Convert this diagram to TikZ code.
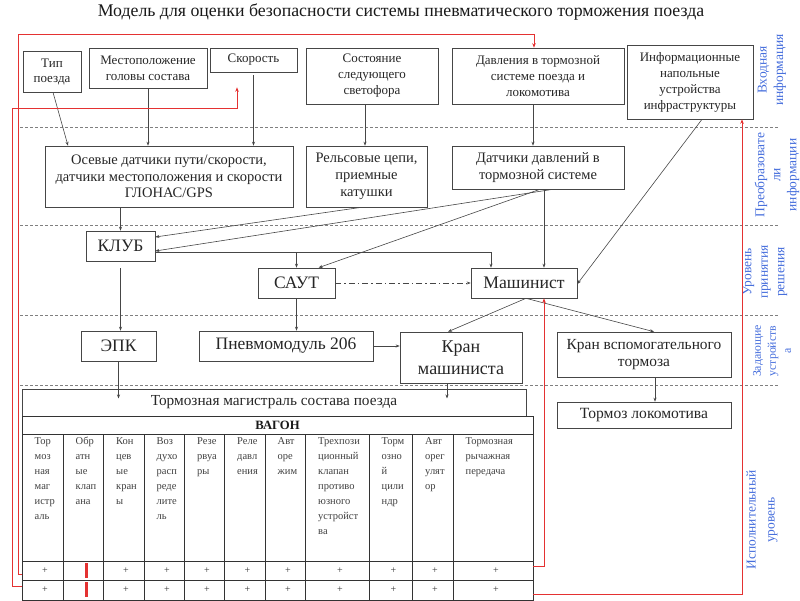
\documentclass[tikz,border=0pt]{standalone}
\usepackage{fontspec}
\setmainfont{Liberation Serif}
\usetikzlibrary{arrows.meta}
\definecolor{redl}{RGB}{228,50,50}
\definecolor{bluel}{RGB}{70,110,220}
\definecolor{linec}{RGB}{70,70,70}
\newcommand{\fs}[2]{\fontsize{#1}{#2}\selectfont}
\tikzset{
 box/.style={draw=linec, line width=0.6pt, inner sep=0pt, align=center, text=black!85},
 conn/.style={draw=linec, line width=0.6pt, -{Stealth[length=4pt,width=3pt]}},
 rconn/.style={draw=redl, line width=0.8pt, -{Stealth[length=4.5pt,width=3.5pt]}},
 lvl/.style={draw=gray, line width=0.7pt, dash pattern=on 3pt off 2pt},
 side/.style={rotate=90, text=bluel, align=center, font=\fs{13.5}{16.5}},
 tline/.style={draw=black!80, line width=0.8pt},
 ctext/.style={anchor=north west, align=left, inner sep=0pt, font=\fs{10.5}{15}, text=black!75},
}
\begin{document}
\begin{tikzpicture}[x=1pt,y=-1pt]
\useasboundingbox (0,0) rectangle (800,600);

% title
\node[font=\fs{17.8}{20}, text=black!90] (title) at (401,12) {Модель для оценки безопасности системы пневматического торможения поезда};

% level separators
\foreach \yy in {127,225,315,385} \draw[lvl] (20,\yy) -- (778,\yy);

% top row
\node[box, minimum width=58pt, minimum height=41pt, font=\fs{13}{15}] (tip) at (52,71.5) {Тип\\поезда};
\node[box, minimum width=118pt, minimum height=40pt, font=\fs{13}{16}] (mest) at (148,68) {Местоположение\\головы состава};
\node[box, minimum width=87pt, minimum height=24pt, font=\fs{13}{16}] (skor) at (253.5,60) {Скорость};
\node[box, minimum width=132pt, minimum height=56pt, font=\fs{13}{16}] (sost) at (372,76) {Состояние\\следующего\\светофора};
\node[box, minimum width=172pt, minimum height=56pt, font=\fs{13}{16}] (davl) at (538,76) {Давления в тормозной\\системе поезда и\\локомотива};
\node[box, minimum width=126pt, minimum height=74pt, font=\fs{13}{16}] (info) at (690,82) {Информационные\\напольные\\устройства\\инфраструктуры};

% second row
\node[box, minimum width=248pt, minimum height=61pt, font=\fs{14.5}{16.7}] (osev) at (169,176.5) {Осевые датчики пути/скорости,\\датчики местоположения и скорости\\ГЛОНАС/GPS};
\node[box, minimum width=121pt, minimum height=61pt, font=\fs{14.5}{16.7}] (rels) at (366.5,176.5) {Рельсовые цепи,\\приемные\\катушки};
\node[box, minimum width=172pt, minimum height=43pt, font=\fs{14.5}{16.7}] (dat) at (538,167.5) {Датчики давлений в\\тормозной системе};

% decision level
\node[box, minimum width=69pt, minimum height=30pt, font=\fs{17.5}{20}] (klub) at (120.5,246) {КЛУБ};
\node[box, minimum width=77pt, minimum height=30pt, font=\fs{17.5}{20}] (saut) at (296.5,283) {САУТ};
\node[box, minimum width=106pt, minimum height=30pt, font=\fs{17.7}{20}] (mash) at (524,283) {Машинист};

% setting devices
\node[box, minimum width=75pt, minimum height=30pt, font=\fs{17.5}{20}] (epk) at (118.5,346) {ЭПК};
\node[box, minimum width=174pt, minimum height=30pt, font=\fs{17.5}{20}] (pnev) at (286,346) {Пневмомодуль 206};
\node[box, minimum width=122pt, minimum height=51pt, font=\fs{18}{21.5}] (kranm) at (461,357.5) {Кран\\машиниста};
\node[box, minimum width=174pt, minimum height=45pt, font=\fs{15.4}{17}] (kranv) at (644,354.5) {Кран вспомогательного\\тормоза};
\node[box, minimum width=174pt, minimum height=26pt, font=\fs{15.6}{17}] (torm) at (644,415) {Тормоз локомотива};
\node[box, minimum width=504pt, minimum height=27pt, font=\fs{15.3}{17}] (magistr) at (274,402.5) {Тормозная магистраль состава поезда};

% table
\draw[tline] (22,416) rectangle (533,612);
\draw[tline] (22,434) -- (533,434);
\foreach \yy in {561,580,600} \draw[tline] (22,\yy) -- (533,\yy);
\foreach \xx in {63,103.5,144,184.5,224.5,265,305.5,369,412.5,453} \draw[tline] (\xx,434) -- (\xx,612);
\node[font=\bfseries\fs{12.7}{14}, text=black!90] (vagon) at (277.5,425) {ВАГОН};
\foreach \xx/\tt [count=\i] in {22/{Тор\\моз\\ная\\маг\\истр\\аль},
  63/{Обр\\атн\\ые\\клап\\ана},
  103.5/{Кон\\цев\\ые\\кран\\ы},
  144/{Воз\\духо\\расп\\реде\\лите\\ль},
  184.5/{Резе\\рвуа\\ры},
  224.5/{Реле\\давл\\ения},
  265/{Авт\\оре\\жим},
  305.5/{Трехпози\\ционный\\клапан\\противо\\юзного\\устройст\\ва},
  369/{Торм\\озно\\й\\цили\\ндр},
  412.5/{Авт\\орег\\улят\\ор},
  453/{Тормозная\\рычажная\\передача}}
  \node[ctext] (col\i) at (\xx+12.5,437) {\tt};
\foreach \xx [count=\i] in {45,126,167,207,247.5,288,340,393.5,435,496} {
  \node[font=\fs{10}{12}, text=black!80] (pa\i) at (\xx,570.5) {+};
  \node[font=\fs{10}{12}, text=black!80] (pb\i) at (\xx,590) {+};
}
\draw[redl, line width=3pt] (86,563) -- (86,578);
\draw[redl, line width=3pt] (86,582) -- (86,597);
\draw[redl, line width=3pt] (126,602) -- (126,612);

\coordinate (r1L) at (22,574);
\coordinate (r2L) at (22,586);
\coordinate (r1R) at (533,566);
\coordinate (r2R) at (533,594);

% side labels
\node[side] (lab1) at (772,70) {Входная\\информация};
\node[side, font=\fs{13.5}{16}] (lab2) at (777,175) {Преобразовате\\ли\\информации};
\node[side] (lab3) at (765,272) {Уровень\\принятия\\решения};
\node[side, font=\fs{11.8}{15}] (lab4) at (772,351) {Задающие\\устройств\\а};
\node[side, font=\fs{13.5}{19}] (lab5) at (762,520) {Исполнительный\\уровень};

% connectors
\draw[conn] ([xshift=1pt]tip.south) -- ([xshift=-101pt]osev.north);
\draw[conn] (mest.south) -- (mest.south |- osev.north);
\draw[conn] ([yshift=-3pt]skor.south) -- (skor.south |- osev.north);
\draw[conn] ([xshift=-7pt]sost.south) -- ([xshift=-7pt]sost.south |- rels.north);
\draw[conn] ([xshift=-5pt]davl.south) -- ([xshift=-5pt]davl.south |- dat.north);
\draw[conn] ([xshift=12pt]info.south) -- ([yshift=-1pt]mash.east);
\draw[conn] (klub.north |- osev.south) -- (klub.north);
\draw[conn] ([xshift=-5pt]rels.south) -- ([yshift=9pt]klub.east);
\draw[conn] ([xshift=15pt]dat.south) -- ([yshift=-5pt]klub.east);
\draw[conn] ([xshift=2pt]dat.south) -- ([xshift=22pt]saut.north);
\draw[conn] ([xshift=6pt]dat.south) -- ([xshift=6pt]dat.south |- mash.north);
\draw[conn] ([yshift=-6pt]klub.east) -| ([xshift=-33pt]mash.north);
\draw[conn] ([yshift=-6pt]klub.east -| saut.north) -- (saut.north);
\draw[conn, dash pattern=on 6pt off 3pt on 1.5pt off 3pt] (saut.east) -- (mash.west);
\draw[conn] ([yshift=-7pt]klub.south) -- (klub.south |- epk.north);
\draw[conn] (saut.south) -- (saut.south |- pnev.north);
\draw[conn] (epk.south) -- ([yshift=4pt]epk.south |- magistr.center);
\draw[conn] (pnev.east) -- (pnev.east -| kranm.west);
\draw[conn] ([xshift=2pt]mash.south) -- ([xshift=-13pt]kranm.north);
\draw[conn] ([xshift=2pt]mash.south) -- ([xshift=10pt]kranv.north);
\draw[conn] ([xshift=-14pt]kranm.south) -- ([xshift=-14pt,yshift=4pt]kranm.south |- magistr.center);
\draw[conn] ([xshift=11pt]kranv.south) -- ([xshift=11pt]kranv.south |- torm.north);

% red feedback lines
\draw[rconn] (r1L) -- (18,574) -- (18,34) -| ([xshift=-4pt]davl.north);
\draw[rconn] (r2L) -- (12,586) -- (12,108) -| ([xshift=-16.5pt,yshift=-15pt]skor.south);
\draw[rconn] (r1R) -- (544,566) -- ([xshift=20pt]mash.south);
\draw[rconn] (r2R) -- (742,594) -- ([xshift=52pt]info.south);
\end{tikzpicture}
\end{document}
